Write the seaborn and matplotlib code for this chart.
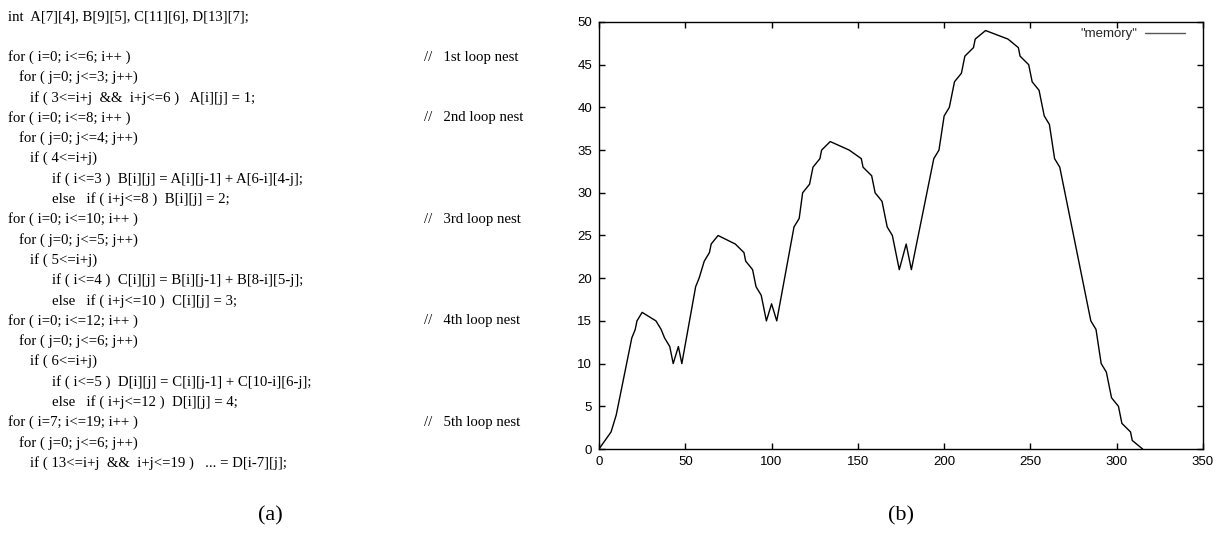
import matplotlib
matplotlib.use("Agg")
import matplotlib.pyplot as plt
import seaborn as sns
import pandas as pd
from matplotlib.lines import Line2D

# ---- data ----
mem_x = [0, 7, 10, 11, 19, 21, 22, 25, 33, 36, 38, 41, 43, 46, 48, 56, 58, 61, 64, 65,
         69, 79, 84, 85, 89, 91, 94, 97, 100, 103, 113, 116, 118, 122, 124, 128, 129, 134,
         145, 152, 153, 158, 160, 164, 167, 170, 174, 178, 181, 192, 194, 197, 200, 203,
         206, 210, 212, 217, 218, 224, 237, 243, 244, 249, 251, 255, 258, 261, 264, 267,
         285, 288, 291, 294, 297, 301, 303, 308, 309, 315]
mem_y = [0, 2, 4, 5, 13, 14, 15, 16, 15, 14, 13, 12, 10, 12, 10, 19, 20, 22, 23, 24,
         25, 24, 23, 22, 21, 19, 18, 15, 17, 15, 26, 27, 30, 31, 33, 34, 35, 36,
         35, 34, 33, 32, 30, 29, 26, 25, 21, 24, 21, 32, 34, 35, 39, 40,
         43, 44, 46, 47, 48, 49, 48, 47, 46, 45, 43, 42, 39, 38, 34, 33,
         15, 14, 10, 9, 6, 5, 3, 2, 1, 0]
x_ticks = [0, 50, 100, 150, 200, 250, 300, 350]
y_ticks = [0, 5, 10, 15, 20, 25, 30, 35, 40, 45, 50]
series_label = '"memory"'

code_lines = [
    (0, "for ( i=0; i<=6; i++ )", "//   1st loop nest"),
    (1, "for ( j=0; j<=3; j++)", None),
    (2, "if ( 3<=i+j  &&  i+j<=6 )   A[i][j] = 1;", None),
    (0, "for ( i=0; i<=8; i++ )", "//   2nd loop nest"),
    (1, "for ( j=0; j<=4; j++)", None),
    (2, "if ( 4<=i+j)", None),
    (3, "if ( i<=3 )  B[i][j] = A[i][j-1] + A[6-i][4-j];", None),
    (3, "else   if ( i+j<=8 )  B[i][j] = 2;", None),
    (0, "for ( i=0; i<=10; i++ )", "//   3rd loop nest"),
    (1, "for ( j=0; j<=5; j++)", None),
    (2, "if ( 5<=i+j)", None),
    (3, "if ( i<=4 )  C[i][j] = B[i][j-1] + B[8-i][5-j];", None),
    (3, "else   if ( i+j<=10 )  C[i][j] = 3;", None),
    (0, "for ( i=0; i<=12; i++ )", "//   4th loop nest"),
    (1, "for ( j=0; j<=6; j++)", None),
    (2, "if ( 6<=i+j)", None),
    (3, "if ( i<=5 )  D[i][j] = C[i][j-1] + C[10-i][6-j];", None),
    (3, "else   if ( i+j<=12 )  D[i][j] = 4;", None),
    (0, "for ( i=7; i<=19; i++ )", "//   5th loop nest"),
    (1, "for ( j=0; j<=6; j++)", None),
    (2, "if ( 13<=i+j  &&  i+j<=19 )   ... = D[i-7][j];", None),
]
header_line = "int  A[7][4], B[9][5], C[11][6], D[13][7];"

# ---- figure ----
W, H = 1222, 545
sns.set_theme(style="ticks")
plt.rcParams["font.family"] = ["Liberation Sans", "DejaVu Sans"]

fig = plt.figure(figsize=(W / 100, H / 100), dpi=100)
fig.patch.set_facecolor("white")

# left panel: code text
serif = ["Liberation Serif", "DejaVu Serif"]
fs_code = 10.6
indent_px = [8, 19, 30, 52]
fig.text(8 / W, 1 - 17 / H, header_line, family=serif, fontsize=fs_code,
         va="center", ha="left", color="black")
y0, dy = 57, 20.3
for k, (lvl, txt, com) in enumerate(code_lines):
    yy = 1 - (y0 + k * dy) / H
    fig.text(indent_px[lvl] / W, yy, txt, family=serif, fontsize=fs_code,
             va="center", ha="left", color="black")
    if com:
        fig.text(424 / W, yy, com, family=serif, fontsize=fs_code,
                 va="center", ha="left", color="black")

fig.text(270 / W, 1 - 516 / H, "(a)", family=serif, fontsize=16,
         va="center", ha="center", color="black")
fig.text(901 / W, 1 - 516 / H, "(b)", family=serif, fontsize=16,
         va="center", ha="center", color="black")

# right panel: memory curve
ax = fig.add_axes([599 / W, 1 - 449 / H, (1203 - 599) / W, (449 - 22) / H])
df = pd.DataFrame({"x": mem_x, "y": mem_y})
sns.lineplot(data=df, x="x", y="y", ax=ax, color="black", linewidth=1.0,
             estimator=None, sort=False)
ax.set_xlim(0, 350)
ax.set_ylim(0, 50)
ax.set_xticks(x_ticks)
ax.set_yticks(y_ticks)
ax.set_xlabel("")
ax.set_ylabel("")
for s in ax.spines.values():
    s.set_visible(True)
    s.set_linewidth(1.0)
    s.set_color("black")
ax.tick_params(direction="in", length=4, width=1.0, top=True, right=True,
               labelsize=9.5, colors="black", pad=5)
ax.set_facecolor("white")

handle = Line2D([0], [0], color="#555555", linewidth=1.0)
leg = ax.legend([handle], [series_label], loc="upper right", frameon=False,
                markerfirst=False, fontsize=9.5, handlelength=3.0,
                bbox_to_anchor=(1 - 14 / 604, 1 - 2 / 427),
                borderaxespad=0.0, borderpad=0.3, handletextpad=0.6)

fig.savefig("out.png", dpi=100, facecolor="white")
